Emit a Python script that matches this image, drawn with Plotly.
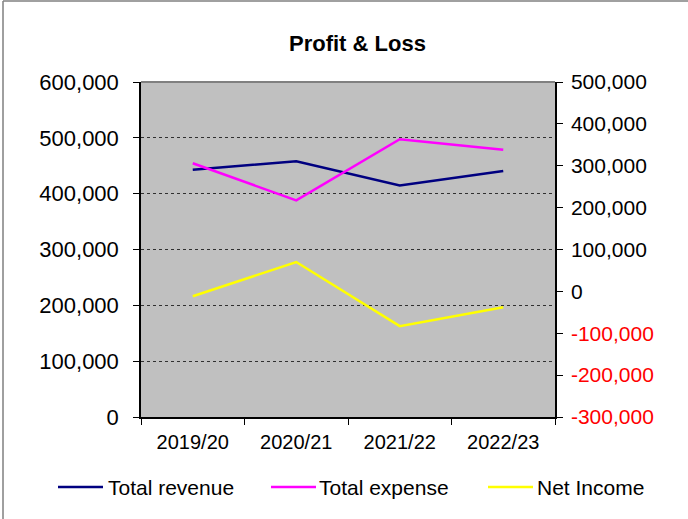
import plotly.graph_objects as go

categories = ["2019/20", "2020/21", "2021/22", "2022/23"]
total_revenue = [443000, 458000, 414500, 440500]
total_expense = [454500, 388000, 497500, 478500]
net_income = [-11500, 70000, -83000, -38000]

left_ticks = [0, 100000, 200000, 300000, 400000, 500000, 600000]
right_ticks = [-300000, -200000, -100000, 0, 100000, 200000, 300000, 400000, 500000]

FONT = "Liberation Sans, Arial, sans-serif"
W, H = 688, 519
L, R, T, B = 141, 133, 82, 102
PW, PH = W - L - R, H - T - B


def px(x):
    return (x - L) / PW


def py(y):
    return (H - B - y) / PH


def fmt(v):
    s = f"{v:,}"
    return f"<span style='color:#FF0000'>{s}</span>" if v < 0 else s


fig = go.Figure()
fig.add_trace(go.Scatter(x=categories, y=total_revenue, mode="lines", name="Total revenue",
                         line=dict(color="#000080", width=2.5), showlegend=False))
fig.add_trace(go.Scatter(x=categories, y=total_expense, mode="lines", name="Total expense",
                         line=dict(color="#FF00FF", width=2.5), showlegend=False))
fig.add_trace(go.Scatter(x=categories, y=net_income, mode="lines", name="Net Income", yaxis="y2",
                         line=dict(color="#FFFF00", width=2.5), showlegend=False))

fig.update_layout(
    width=W, height=H,
    margin=dict(l=L, r=R, t=T, b=B, pad=0),
    paper_bgcolor="white",
    plot_bgcolor="#C0C0C0",
    font=dict(family=FONT, color="black"),
    xaxis=dict(type="category", range=[-0.5, 3.5], showgrid=False, showline=True,
               linecolor="black", linewidth=1.5, ticks="outside", ticklen=6, tickcolor="black",
               tickson="boundaries", tickfont=dict(size=20), zeroline=False, fixedrange=True,
               ticklabelstandoff=6),
    yaxis=dict(range=[0, 600000], tickvals=left_ticks, ticktext=[fmt(v) for v in left_ticks],
               showgrid=True, gridcolor="#303030", griddash="dot", gridwidth=1,
               showline=True, linecolor="black", linewidth=1.5, ticks="outside", ticklen=6,
               tickcolor="black", tickfont=dict(size=22), zeroline=False, ticklabelstandoff=10),
    yaxis2=dict(range=[-300000, 500000], overlaying="y", side="right", tickvals=right_ticks,
                ticktext=[fmt(v) for v in right_ticks], showgrid=False, showline=True,
                linecolor="black", linewidth=1.5, ticks="outside", ticklen=6, tickcolor="black",
                tickfont=dict(size=21), zeroline=False, ticklabelstandoff=4),
    showlegend=False,
)

shapes = [
    dict(type="line", xref="paper", yref="paper", x0=0, x1=1, y0=1, y1=1,
         line=dict(color="#808080", width=2)),
    dict(type="line", xref="paper", yref="paper", x0=px(3), x1=px(3), y0=py(1), y1=py(530),
         line=dict(color="#404040", width=1)),
    dict(type="line", xref="paper", yref="paper", x0=px(3), x1=px(700), y0=py(1), y1=py(1),
         line=dict(color="#808080", width=1.5)),
]

legend_items = [
    ("Total revenue", "#000080", 58, 103, 108),
    ("Total expense", "#FF00FF", 271, 316, 319),
    ("Net Income", "#FFFF00", 488, 533, 537),
]
ly = 487
annotations = [
    dict(text="<b>Profit & Loss</b>", xref="paper", yref="paper", x=px(357), y=py(43),
         xanchor="center", yanchor="middle", showarrow=False, font=dict(size=22, color="black")),
]
for name, color, x0, x1, xt in legend_items:
    shapes.append(dict(type="line", xref="paper", yref="paper", x0=px(x0), x1=px(x1),
                       y0=py(ly), y1=py(ly), line=dict(color=color, width=2.5)))
    annotations.append(dict(text=name, xref="paper", yref="paper", x=px(xt - 2), y=py(ly),
                            xanchor="left", yanchor="middle", showarrow=False,
                            font=dict(size=21, color="black")))

fig.update_layout(shapes=shapes, annotations=annotations)
fig.write_html("out.html", config={"displayModeBar": False},
               post_script="document.body.style.margin='0';document.body.style.overflow='hidden';")
